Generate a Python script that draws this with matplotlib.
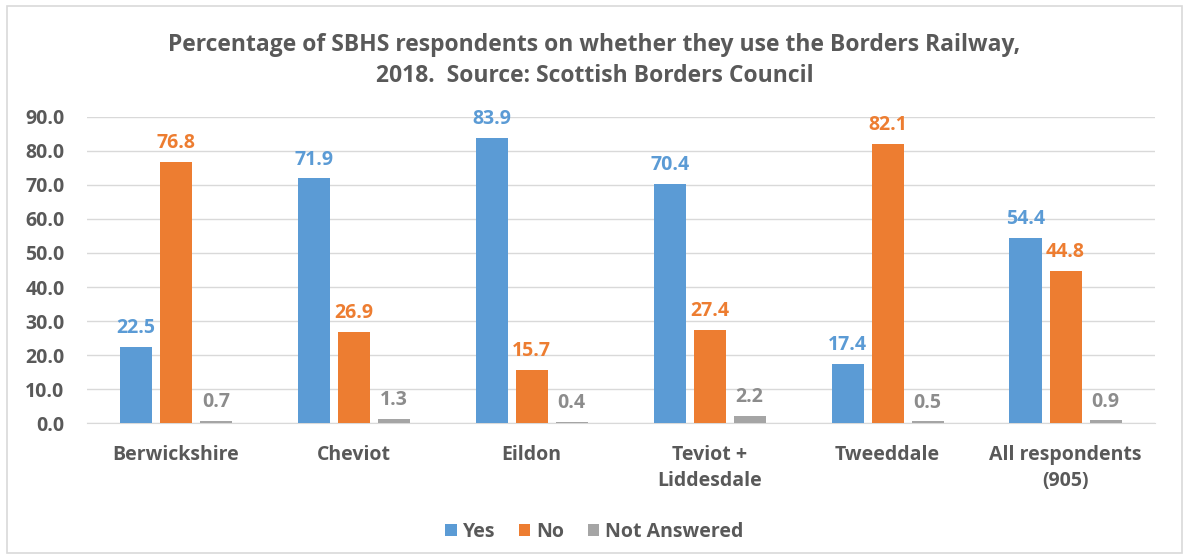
import numpy as np
import matplotlib
matplotlib.use("Agg")
import matplotlib.pyplot as plt
from matplotlib.patches import Rectangle

categories = ["Berwickshire", "Cheviot", "Eildon", "Teviot +\nLiddesdale", "Tweeddale", "All respondents\n(905)"]
yes = [22.5, 71.9, 83.9, 70.4, 17.4, 54.4]
no = [76.8, 26.9, 15.7, 27.4, 82.1, 44.8]
not_answered = [0.7, 1.3, 0.4, 2.2, 0.5, 0.9]
series_names = ["Yes", "No", "Not Answered"]
colors = ["#5B9BD5", "#ED7D31", "#A5A5A5"]
text_grey = "#595959"

plt.rcParams['font.family'] = ['Open Sans', 'DejaVu Sans']

fig = plt.figure(figsize=(11.89, 5.59), dpi=100)
fig.patches.append(Rectangle((0.006, 0.01), 0.988, 0.98, transform=fig.transFigure,
                             fill=False, edgecolor="#D9D9D9", linewidth=1.2))
ax = fig.add_axes([0.073, 0.243, 0.898, 0.548])

x = np.arange(len(categories))
width = 0.18
offsets = [-0.225, 0.0, 0.225]
for vals, name, col, off in zip([yes, no, not_answered], series_names, colors, offsets):
    bars = ax.bar(x + off, vals, width, color=col, label=name, zorder=3)
    for b, v in zip(bars, vals):
        ax.text(b.get_x() + b.get_width() / 2, v + 2.5, f"{v:.1f}", ha="center", va="bottom",
                color=col if col != "#A5A5A5" else "#8C8C8C", fontsize=14, fontweight="bold")

ax.set_xlim(-0.5, len(categories) - 0.5)
ax.set_ylim(0, 90)
ax.set_yticks(np.arange(0, 91, 10))
ax.set_yticklabels([f"{t:.1f}" for t in np.arange(0, 91, 10)])
ax.set_xticks(x)
ax.set_xticklabels(categories, linespacing=1.35)
ax.tick_params(axis="both", length=0, colors=text_grey, labelsize=14)
ax.tick_params(axis="x", pad=16)
ax.tick_params(axis="y", pad=16)
for lbl in ax.get_xticklabels() + ax.get_yticklabels():
    lbl.set_fontweight("bold")
ax.grid(axis="y", color="#D9D9D9", linewidth=1, zorder=0)
for s in ["top", "right", "left"]:
    ax.spines[s].set_visible(False)
ax.spines["bottom"].set_color("#D9D9D9")

fig.text(0.5, 0.892, "Percentage of SBHS respondents on whether they use the Borders Railway,\n2018.  Source: Scottish Borders Council",
         ha="center", va="center", fontsize=16.5, fontweight="bold", color=text_grey, linespacing=1.4)

leg = fig.legend(loc="center", bbox_to_anchor=(0.5, 0.048), ncol=3, frameon=False,
                 handlelength=0.6, handleheight=0.6, handletextpad=0.3, columnspacing=1.2,
                 prop={"size": 14, "weight": "bold"})
for t in leg.get_texts():
    t.set_color(text_grey)

fig.savefig("out.png", dpi=100)
